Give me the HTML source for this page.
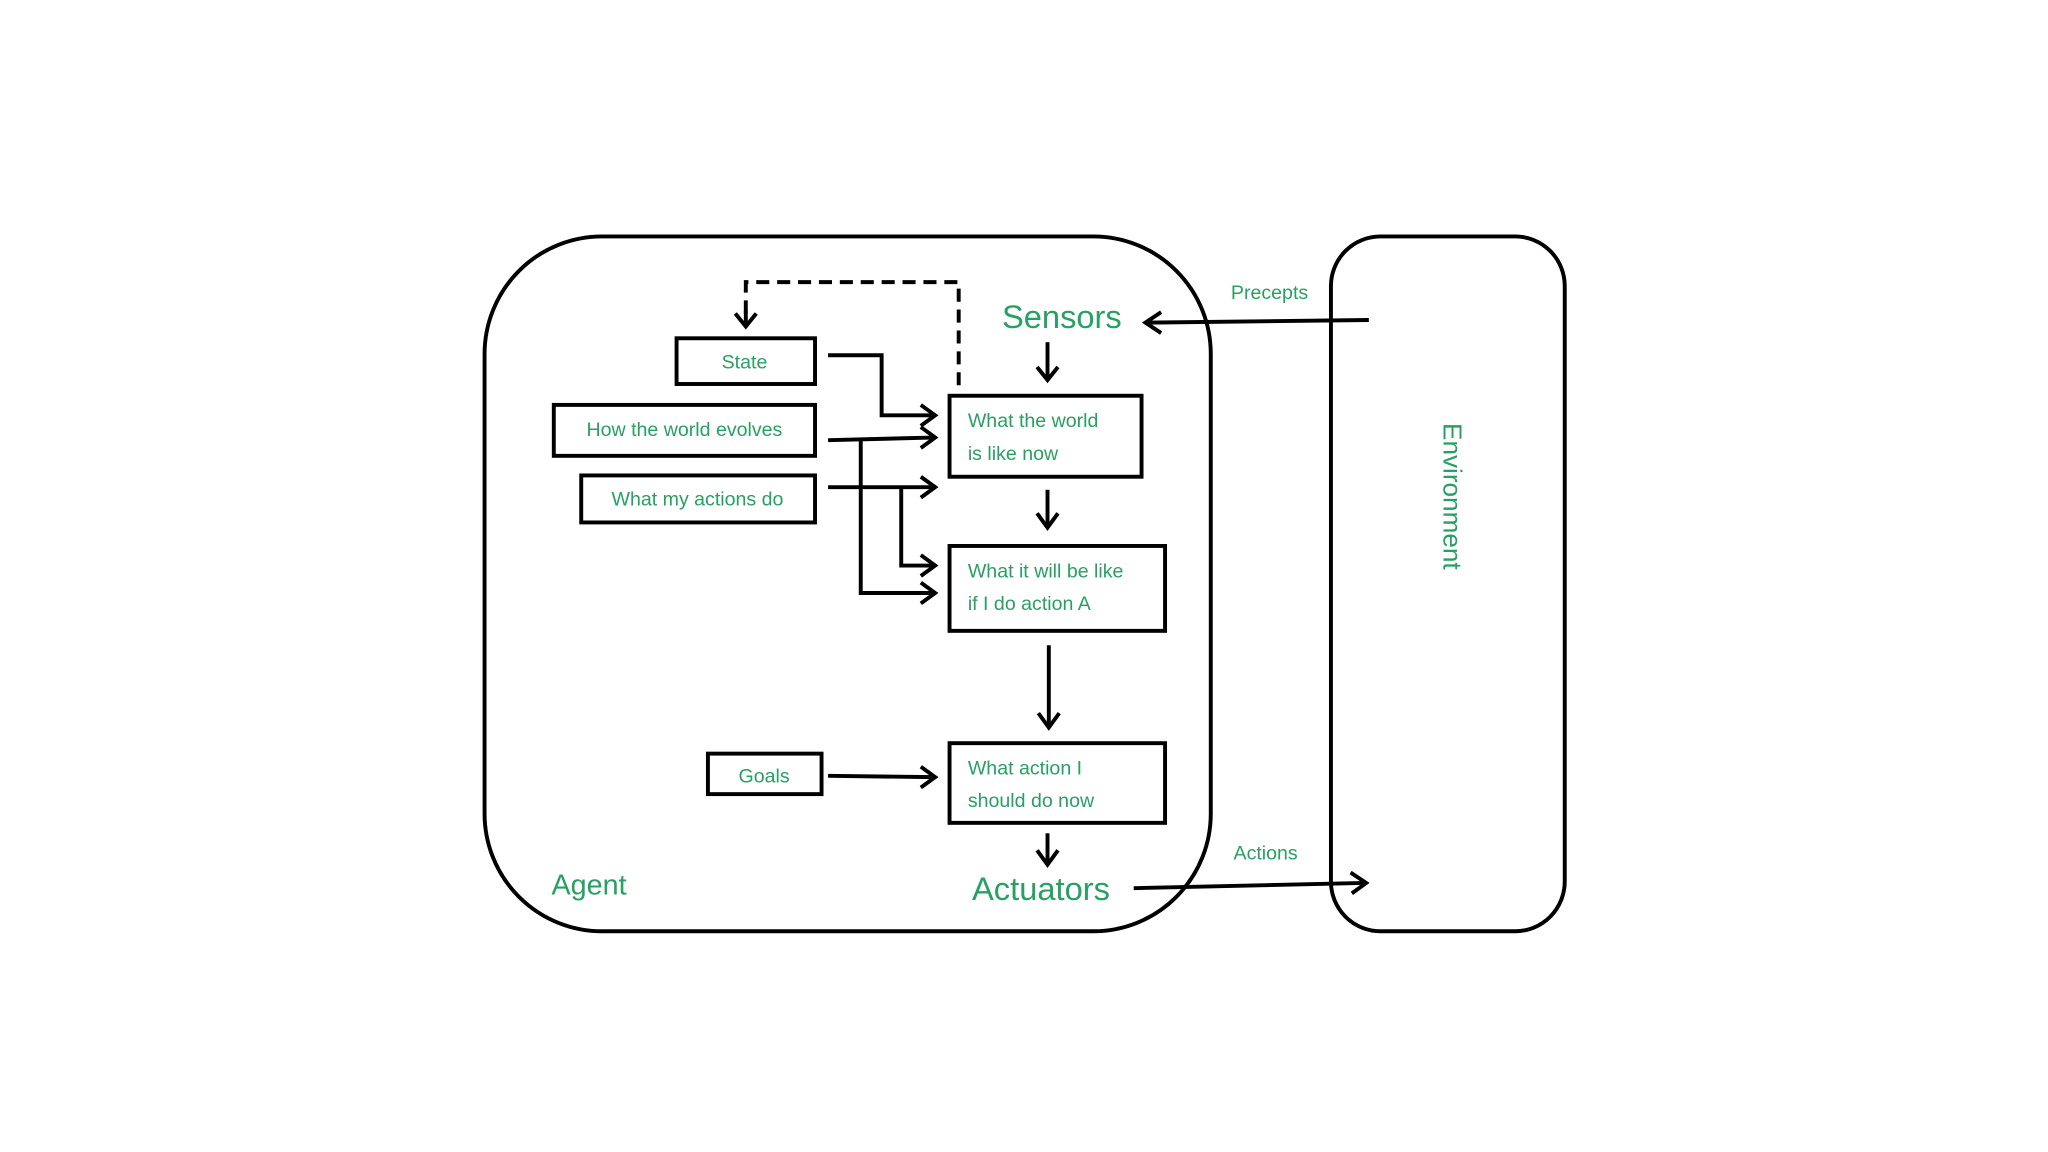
<!DOCTYPE html>
<html><head><meta charset="utf-8"><style>
html,body{margin:0;padding:0;background:#fff;}
svg{display:block;}
text{font-family:"Liberation Sans",sans-serif;fill:#27a064;}
</style></head><body>
<svg width="2048" height="1152" viewBox="0 0 1568 882" preserveAspectRatio="none" xmlns="http://www.w3.org/2000/svg">
<defs>
<marker id="a" viewBox="0 0 10 10" refX="9" refY="5" markerWidth="5" markerHeight="5" orient="auto" markerUnits="userSpaceOnUse" style="overflow:visible">
<path d="M-6,-7 L9,5 L-6,17" transform="scale(0.75) translate(3,1.7)" fill="none" stroke="#000" stroke-width="4"/>
</marker>
</defs>
<g fill="none" stroke="#000" stroke-width="3">
<rect x="371" y="181" width="556" height="532" rx="90" ry="90"/>
<rect x="1019" y="181" width="179" height="532" rx="38" ry="38"/>
<rect x="518" y="259" width="106" height="35"/>
<rect x="424" y="310" width="200" height="39"/>
<rect x="445" y="364" width="179" height="36"/>
<rect x="727" y="303" width="147" height="62"/>
<rect x="727" y="418" width="165" height="65"/>
<rect x="727" y="569" width="165" height="61"/>
<rect x="542" y="577" width="87" height="31"/>
<path d="M734,295 V216 H571 V246" stroke-dasharray="10,6"/>
</g>
<g fill="none" stroke="#000" stroke-width="3">
<path d="M571,238 V250"/><path d="M563,240 L571,250 L579,240"/>
<path d="M802,262 V290"/><path d="M794,281 L802,291 L810,281"/>
<path d="M634,272 H675 V318 H714"/><path d="M705,310 L716,318 L705,326"/>
<path d="M634,337 L714,335"/><path d="M705,327 L716,335 L705,343"/>
<path d="M659,337 V454 H714"/><path d="M705,446 L716,454 L705,462"/>
<path d="M634,373 H714"/><path d="M705,365 L716,373 L705,381"/>
<path d="M690,373 V433 H714"/><path d="M705,425 L716,433 L705,441"/>
<path d="M802,375 V402"/><path d="M794,393 L802,404 L810,393"/>
<path d="M803,494 V555"/><path d="M795,546 L803,557 L811,546"/>
<path d="M634,594 L714,595"/><path d="M705,587 L716,595 L705,603"/>
<path d="M802,638 V660"/><path d="M794,651 L802,662 L810,651"/>
<path d="M868,680 L1044,676"/><path d="M1034,668 L1046,676 L1035,684"/>
<path d="M1048,245 L879,247"/><path d="M889,239 L877,247 L889,255"/>
</g>
<text x="813" y="251" font-size="25" text-anchor="middle">Sensors</text>
<text x="797" y="689" font-size="25" text-anchor="middle">Actuators</text>
<text x="451" y="685" font-size="22" text-anchor="middle">Agent</text>
<text x="972" y="229" font-size="15" text-anchor="middle">Precepts</text>
<text x="969" y="658" font-size="15" text-anchor="middle">Actions</text>
<text transform="translate(1105,380) rotate(90)" font-size="20" text-anchor="middle">Environment</text>
<text x="570" y="282" font-size="15" text-anchor="middle">State</text>
<text x="524" y="334" font-size="15" text-anchor="middle">How the world evolves</text>
<text x="534" y="387" font-size="15" text-anchor="middle">What my actions do</text>
<text x="741" y="327" font-size="15">What the world</text>
<text x="741" y="352" font-size="15">is like now</text>
<text x="741" y="442" font-size="15">What it will be like</text>
<text x="741" y="467" font-size="15">if I do action A</text>
<text x="741" y="593" font-size="15">What action I</text>
<text x="741" y="618" font-size="15">should do now</text>
<text x="585" y="599" font-size="15" text-anchor="middle">Goals</text>
</svg>
</body></html>
